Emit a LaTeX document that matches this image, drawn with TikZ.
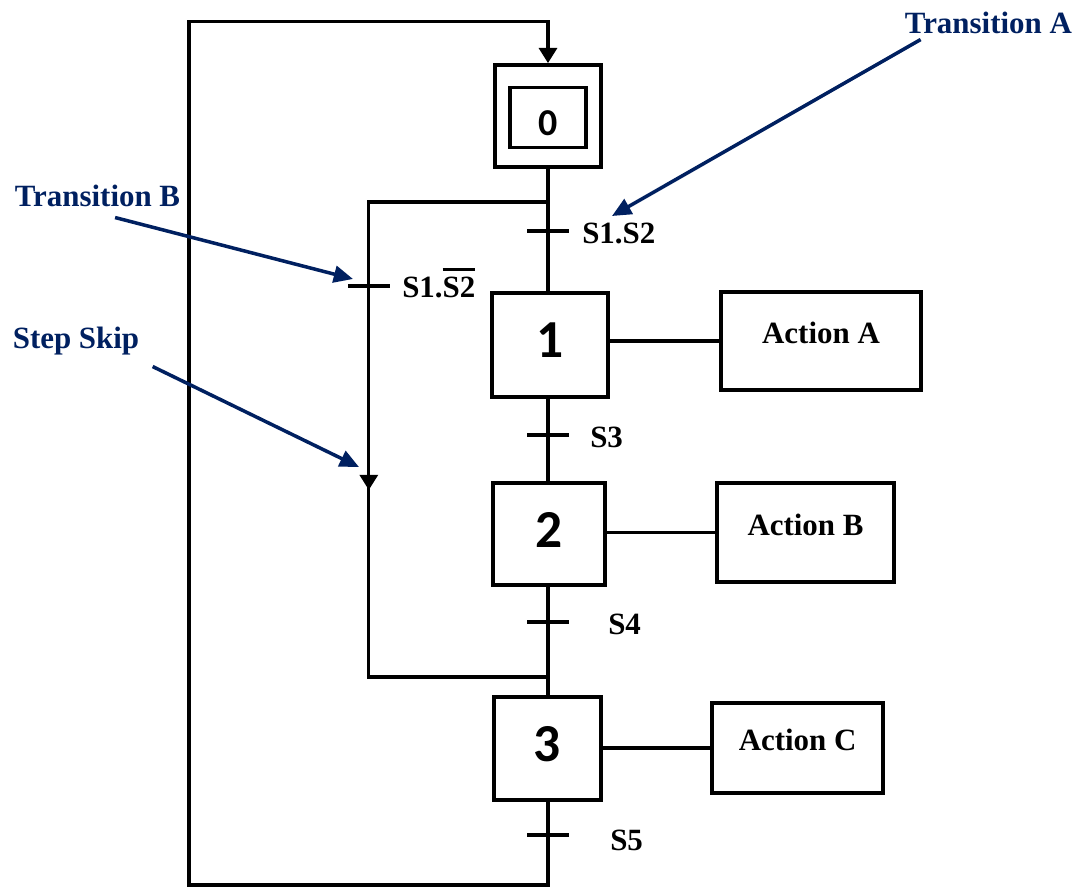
\documentclass[tikz,border=0pt]{standalone}
\usepackage{fontspec}
\setmainfont{Liberation Serif}
\newfontfamily\stepfont{Carlito}
\usepackage{tikz}
\usetikzlibrary{arrows.meta}

\definecolor{notecol}{RGB}{0,32,96}

% negated signal: bar over the name
\newcommand{\negsig}[1]{\vbox{\hrule height 2pt\kern 4pt\hbox{#1}}}

\begin{document}
\begin{tikzpicture}[
    line/.style={line width=2.4pt},
    flow/.style={line width=2.4pt, -{Triangle[length=0.38cm,width=0.45cm]}},
    stepbox/.style={draw, line width=2.7pt, inner sep=0pt,
      font=\stepfont\bfseries\fontsize{38}{40}\selectfont, text depth=0.22cm},
    actbox/.style={draw, line width=2.7pt, inner sep=0pt,
      font=\bfseries\fontsize{22}{26}\selectfont, text depth=0.4cm},
    trmark/.style={fill, inner sep=0pt, minimum width=1.05cm, minimum height=0.1cm},
    cond/.style={anchor=west, inner sep=0pt, font=\bfseries\fontsize{22}{26}\selectfont,
      text height=14.6pt, text depth=0pt},
    note/.style={inner sep=0pt, text=notecol, font=\bfseries\fontsize{22}{26}\selectfont,
      text height=14.6pt, text depth=0pt},
    pointer/.style={notecol, line width=2.5pt, -{Triangle[length=0.48cm,width=0.42cm]}}
  ]
  \useasboundingbox (0,0) rectangle (27.05,-22.175);

  % steps
  \node[stepbox, minimum width=2.65cm, minimum height=2.55cm] (s0) at (13.7,-2.9) {};
  \node[stepbox, minimum width=1.9cm, minimum height=1.5cm,
        font=\stepfont\bfseries\fontsize{27}{30}\selectfont,
        text height=0.88cm, text depth=0pt] (s0i) at (13.7,-2.94) {0};
  \node[stepbox, minimum width=2.9cm, minimum height=2.6cm] (s1) at (13.75,-8.625) {1};
  \node[stepbox, minimum width=2.8cm, minimum height=2.55cm] (s2) at (13.72,-13.35) {2};
  \node[stepbox, minimum width=2.675cm, minimum height=2.575cm] (s3) at (13.68,-18.71) {3};

  % actions
  \node[actbox, minimum width=5cm, minimum height=2.45cm] (actA) at (20.525,-8.525) {Action A};
  \node[actbox, minimum width=4.425cm, minimum height=2.475cm] (actB) at (20.1375,-13.3125) {Action B};
  \node[actbox, minimum width=4.275cm, minimum height=2.25cm] (actC) at (19.94,-18.7) {Action C};

  \draw[line] (actA.west -| s1.east) -- (actA.west);
  \draw[line] (actB.west -| s2.east) -- (actB.west);
  \draw[line] (actC.west -| s3.east) -- (actC.west);

  \draw[line] (s0.south) -- (s0.south |- s1.north);
  \draw[line] (s1.south -| s0.south) -- (s0.south |- s2.north);
  \draw[line] (s2.south -| s0.south) -- (s0.south |- s3.north);
  \draw[flow] (s3.south -| s0.south) -- (13.7,-22.125) -- (4.725,-22.125) -- (4.725,-0.54)
              -- (13.7,-0.54) -- (s0);

  % transitions
  \node[trmark] (trA) at (13.7,-5.775) {};
  \node[trmark] (trB) at (9.22,-7.15) {};
  \node[trmark] (tr3) at (13.7,-10.875) {};
  \node[trmark] (tr4) at (13.7,-15.55) {};
  \node[trmark] (tr5) at (13.7,-20.875) {};

  \node[cond] (cA) at (14.55,-5.825) {S1.S2};
  \node[cond] (cB) at (10.05,-7.175) {S1.\negsig{S2}};
  \node[cond] (c3) at (14.75,-10.925) {S3};
  \node[cond] (c4) at (15.2,-15.6) {S4};
  \node[cond] (c5) at (15.25,-21.0) {S5};

  % skip branch
  \coordinate (div) at (13.7,-5.05);
  \coordinate (conv) at (13.7,-16.925);
  \coordinate (skip) at (9.22,-12.25);
  \draw[line] (div) -| (trB.center) |- (conv);
  \draw[flow] (trB.center) -- (skip);

  % notes
  \node[note] (noteA) at (24.71,-0.575) {Transition A};
  \node[note] (noteB) at (2.4375,-4.9) {Transition B};
  \node[note] (noteS) at (1.9,-8.45) {Step Skip};

  \coordinate (pA) at (15.3,-5.4);
  \coordinate (pB) at (8.825,-6.975);
  \coordinate (pS) at (8.975,-11.675);
  \draw[pointer] ([shift={(0.4,-0.15)}]noteA.south west) -- (pA);
  \draw[pointer] ([shift={(0.44,-0.275)}]noteB.south) -- (pB);
  \draw[pointer] ([shift={(0.33,-0.45)}]noteS.south east) -- (pS);
\end{tikzpicture}
\end{document}
